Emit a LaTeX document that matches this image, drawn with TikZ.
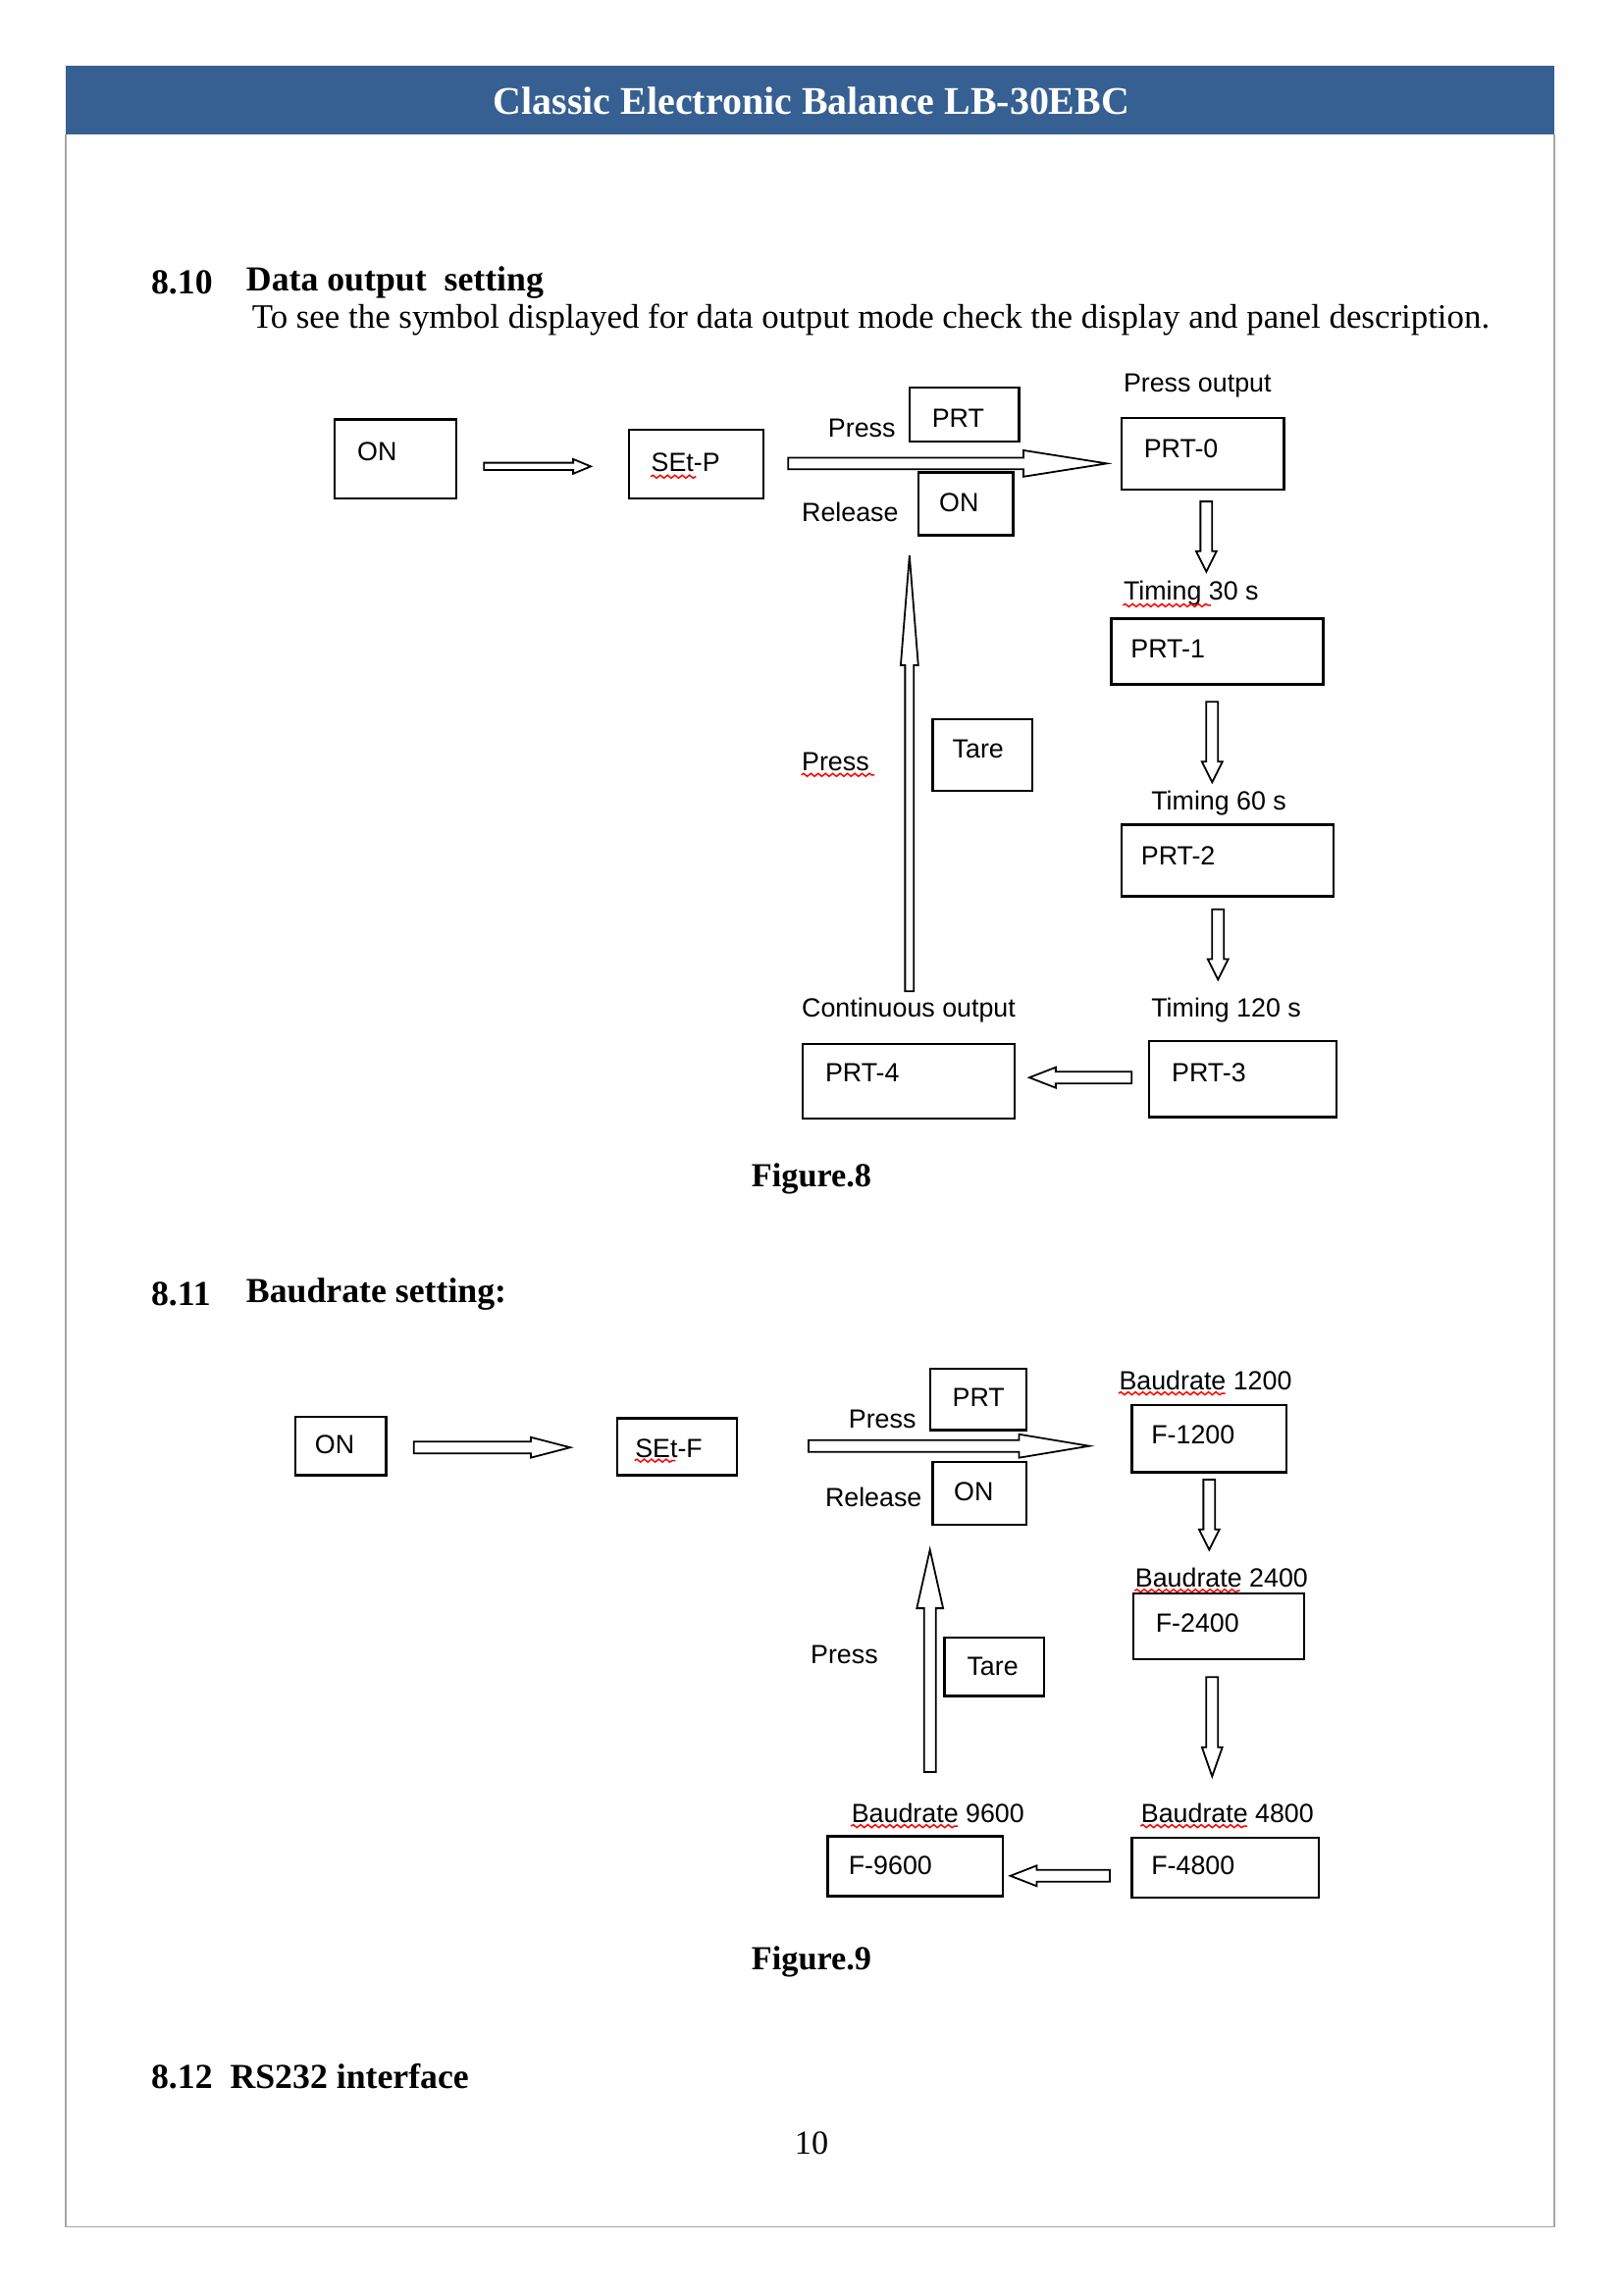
\documentclass[tikz,border=0pt]{standalone}
\usepackage{fontspec}
\setmainfont{Liberation Serif}
\newfontfamily\dg{Liberation Sans}
\usetikzlibrary{decorations.pathmorphing}
\definecolor{hdr}{HTML}{376092}
\newcommand\barr[7]{\begin{scope}[shift={(#1,#2)},rotate=#3]
\draw[fill=white,line width=0.6pt] (0,-#5) -- ({#4-#7},-#5) -- ({#4-#7},-#6) -- (#4,0) -- ({#4-#7},#6) -- ({#4-#7},#5) -- (0,#5) -- cycle;\end{scope}}
\newcommand\sq[3]{\draw[red,line width=0.5pt,decorate,decoration={snake,amplitude=0.5pt,segment length=2.5pt}] (#1,#3) -- (#2,#3);}
\begin{document}
\begin{tikzpicture}[x=0.5pt,y=-0.5pt,
 box/.style={draw,line width=0.8pt},
 t/.style={anchor=west,inner sep=0,font=\dg\fontsize{9}{10}\selectfont},
 h/.style={anchor=west,inner sep=0,font=\bfseries\fontsize{12}{14}\selectfont}]
\useasboundingbox (0,0) rectangle (1110,1569.7);
\fill[white] (0,0) rectangle (1110,1569.7);
\draw[gray!70,line width=0.6pt] (45,92) -- (45,1523) -- (1063,1523) -- (1063,92);
\fill[hdr] (45,45) rectangle (1063,92);
\node[inner sep=0,text=white,font=\bfseries\fontsize{13.4}{15}\selectfont] (title) at (555,69) {Classic Electronic Balance LB-30EBC};
\node[h] (s810) at (103,193) {8.10};
\node[h] (s810t) at (168,193) {Data output\ \ setting};
\node[anchor=west,inner sep=0,font=\fontsize{11.7}{13}\selectfont] (desc) at (172,219) {To see the symbol displayed for data output mode check the display and panel description.};
% Figure 8
\draw[box] (229,287) rectangle (312,341); \node[t] (on1) at (244,309) {ON};
\barr{331}{319}{0}{73}{2.5}{5}{12}
\draw[box] (430,294) rectangle (522,341); \node[t] (setp) at (445,316) {SEt-P}; \sq{445}{476}{326}
\node[t] (pr1) at (566,293) {Press};
\draw[box] (622,265) rectangle (697,302); \node[t] (prt1) at (637,286) {PRT};
\barr{539}{317}{0}{218}{4}{9}{57}
\node[t] (rel1) at (548,350) {Release};
\draw[box] (628,323) rectangle (693,366); \node[t] (on2) at (642,344) {ON};
\node[t] (po) at (768,264) {Press output};
\draw[box] (767,286) rectangle (878,335); \node[t] (p0) at (782,307) {PRT-0};
\barr{825}{343}{-90}{48}{4}{7}{14}
\node[t] (t30) at (768,406) {Timing 30 s}; \sq{768}{828}{414}
\draw[box] (760,423) rectangle (905,468); \node[t] (p1) at (773,444) {PRT-1};
\barr{829}{480}{-90}{55}{4}{7}{14}
\node[t] (t60) at (787,549) {Timing 60 s};
\draw[box] (767,564) rectangle (912,613); \node[t] (p2) at (780,585) {PRT-2};
\barr{833}{622}{-90}{48}{4}{7}{14}
\node[t] (t120) at (787,691) {Timing 120 s};
\draw[box] (786,712) rectangle (914,764); \node[t] (p3) at (801,734) {PRT-3};
\barr{774}{737}{180}{70}{4}{7}{18}
\draw[box] (549,714) rectangle (694,765); \node[t] (p4) at (564,734) {PRT-4};
\node[t] (co) at (548,691) {Continuous output};
\barr{622}{678}{90}{298}{3}{6}{75}
\node[t] (pr2) at (548,521) {Press}; \sq{548}{598}{530}
\draw[box] (638,492) rectangle (706,541); \node[t] (tare1) at (651,512) {Tare};
\node[inner sep=0,font=\bfseries\fontsize{11.5}{13}\selectfont] (f8) at (555,806) {Figure.8};
% Figure 9
\node[h] (s811) at (103,885) {8.11};
\node[h] (s811t) at (168,885) {Baudrate setting:};
\draw[box] (202,969) rectangle (264,1009); \node[t] (on3) at (215,988) {ON};
\barr{283}{990}{0}{107}{4}{7}{27}
\draw[box] (422,970) rectangle (504,1009); \node[t] (setf) at (434,991) {SEt-F}; \sq{434}{462}{999}
\node[t] (pr3) at (580,971) {Press};
\draw[box] (636,936) rectangle (702,978); \node[t] (prt2) at (651,956) {PRT};
\barr{553}{989}{0}{192}{4}{8}{48}
\node[t] (rel2) at (564,1024) {Release};
\draw[box] (638,1000) rectangle (702,1043); \node[t] (on4) at (652,1020) {ON};
\node[t] (b12) at (765,944) {Baudrate 1200}; \sq{765}{838}{953}
\draw[box] (774,961) rectangle (880,1007); \node[t] (f12) at (787,981) {F-1200};
\barr{827}{1012}{-90}{48}{4}{7}{14}
\node[t] (b24) at (776,1079) {Baudrate 2400}; \sq{776}{848}{1088}
\draw[box] (775,1090) rectangle (892,1135); \node[t] (f24) at (790,1110) {F-2400};
\barr{829}{1147}{-90}{68}{4}{7}{20}
\node[t] (b48) at (780,1240) {Baudrate 4800}; \sq{780}{853}{1249}
\draw[box] (774,1257) rectangle (902,1298); \node[t] (f48) at (787,1276) {F-4800};
\barr{759}{1283}{180}{68}{4}{7}{18}
\node[t] (b96) at (582,1240) {Baudrate 9600}; \sq{582}{655}{1249}
\draw[box] (566,1256) rectangle (686,1297); \node[t] (f96) at (580,1276) {F-9600};
\barr{636}{1212}{90}{152}{4}{9}{40}
\node[t] (pr4) at (554,1132) {Press};
\draw[box] (646,1120) rectangle (714,1160); \node[t] (tare2) at (661,1140) {Tare};
\node[inner sep=0,font=\bfseries\fontsize{11.5}{13}\selectfont] (f9) at (555,1342) {Figure.9};
\node[h] (s812) at (103,1420) {8.12\ \ RS232 interface};
\node[inner sep=0,font=\fontsize{11.5}{13}\selectfont] (pg) at (555,1466) {10};
\end{tikzpicture}
\end{document}
